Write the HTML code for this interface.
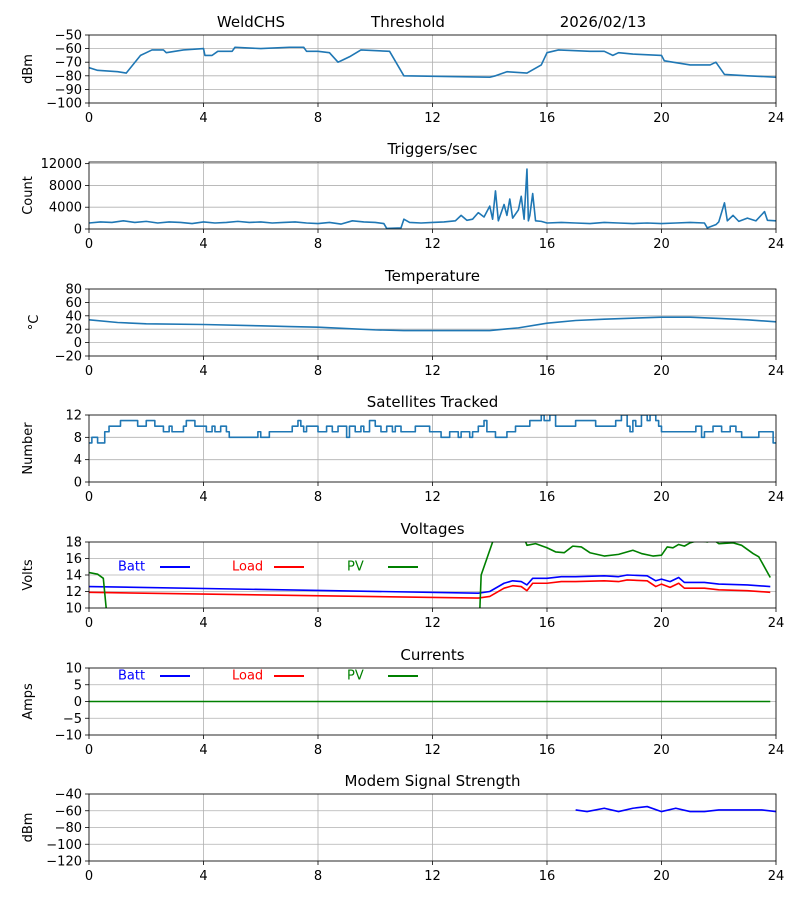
<!DOCTYPE html>
<html><head><meta charset="utf-8">
<style>
html,body{margin:0;padding:0;background:#fff;}
svg{display:block;font-family:"DejaVu Sans","Liberation Sans",sans-serif;}
</style></head>
<body>
<svg id="chart" width="800" height="900" xmlns="http://www.w3.org/2000/svg">
<text x="251" y="27" font-size="15" text-anchor="middle">WeldCHS</text>
<text x="408" y="27" font-size="15" text-anchor="middle">Threshold</text>
<text x="603" y="27" font-size="15" text-anchor="middle">2026/02/13</text>
</svg>
<script>
// ---- data ----
const xTicks = [0,4,8,12,16,20,24];
const threshHours = [0,0.3,1,1.3,1.8,2,2.2,2.6,2.7,3,3.3,4,4.05,4.3,4.5,5,5.1,6,7,7.5,7.6,8,8.4,8.7,8.9,9.1,9.5,10.5,11,14,14.2,14.6,15.3,15.8,16,16.4,17.5,18,18.3,18.5,19,20,20.1,21,21.7,21.9,22.2,23,24];
const threshVals = [-74,-76,-77,-78,-65,-63,-61,-61,-63,-62,-61,-60,-65,-65,-62,-62,-59,-60,-59,-59,-62,-62,-63,-70,-68,-66,-61,-62,-80,-81,-80,-77,-78,-72,-63,-61,-62,-62,-65,-63,-64,-65,-69,-72,-72,-70,-79,-80,-81];
const trigHours = [0,0.4,0.8,1.2,1.6,2,2.4,2.8,3.2,3.6,4,4.4,4.8,5.2,5.6,6,6.4,6.8,7.2,7.6,8,8.4,8.8,9.2,9.6,10,10.3,10.4,10.9,11,11.2,11.6,12,12.4,12.8,13,13.2,13.4,13.6,13.8,14,14.1,14.2,14.3,14.5,14.6,14.7,14.8,15,15.1,15.2,15.3,15.35,15.4,15.5,15.6,15.8,16,16.5,17,17.5,18,18.5,19,19.5,20,20.5,21,21.5,21.6,21.9,22,22.2,22.3,22.5,22.7,23,23.3,23.6,23.7,24];
const trigVals = [1100,1300,1200,1500,1200,1400,1100,1300,1200,1000,1300,1100,1200,1400,1200,1300,1100,1200,1300,1100,1000,1200,900,1500,1300,1200,1000,100,200,1800,1200,1100,1200,1300,1500,2500,1600,1800,3000,2200,4200,1800,7000,1500,4500,2500,5500,2000,3500,6000,1800,11000,1500,2500,6500,1500,1400,1100,1200,1100,1000,1200,1100,1000,1100,1000,1100,1200,1100,200,800,1300,4800,1500,2500,1400,2000,1500,3200,1600,1500];
const tempHours = [0,1,2,4,6,7,8,9,10,11,14,15,16,17,18,20,21,22,23,24];
const tempVals = [34,30,28,27,25,24,23,21,19,18,18,22,29,33,35,38,38,36,34,31];
const satHours = [0,0.1,0.3,0.55,0.7,1.1,1.7,2.0,2.3,2.6,2.8,2.9,3.3,3.4,3.7,4.1,4.3,4.4,4.6,4.8,4.9,5.9,6.0,6.3,7.1,7.3,7.4,7.5,7.6,8.0,8.3,8.5,8.7,9.0,9.1,9.3,9.5,9.6,9.8,10.0,10.2,10.4,10.6,10.7,10.9,11.4,11.9,12.3,12.6,12.9,13.0,13.3,13.4,13.6,13.8,13.9,14.2,14.6,14.9,15.4,15.8,15.9,16.1,16.3,17.0,17.7,18.4,18.6,18.8,18.9,19.0,19.1,19.3,19.5,19.6,19.8,19.9,20.0,21.2,21.4,21.5,21.8,22.1,22.4,22.6,22.8,23.4,23.9,24];
const satVals = [7,8,7,9,10,11,10,11,10,9,10,9,10,11,10,9,10,9,10,9,8,9,8,9,10,11,10,9,10,9,10,9,10,8,10,9,10,9,11,10,9,10,9,10,9,10,9,8,9,8,9,8,9,10,11,9,8,9,10,11,12,11,12,10,11,10,11,12,10,9,11,10,12,11,12,11,10,9,10,8,9,10,9,10,9,8,9,7,7];
const voltHours = [0,13.6,14,14.5,14.8,15.1,15.3,15.5,16,16.5,17,18,18.5,18.8,19.5,19.8,20,20.3,20.6,20.8,21.5,22,23,23.8];
const battVals = [12.6,11.8,12.0,13.0,13.3,13.2,12.8,13.6,13.6,13.8,13.8,13.9,13.8,14.0,13.9,13.3,13.5,13.2,13.7,13.1,13.1,12.9,12.8,12.6];
const loadVals = [11.9,11.2,11.4,12.4,12.7,12.6,12.1,13.0,13.0,13.2,13.2,13.3,13.2,13.4,13.3,12.6,12.9,12.5,13.0,12.4,12.4,12.2,12.1,11.9];
const pvHours = [0,0.3,0.5,0.6,0.7,13.6,13.7,14,14.2,15.2,15.3,15.6,16,16.3,16.6,16.9,17.2,17.5,18,18.5,19,19.3,19.7,20,20.2,20.4,20.6,20.8,21,21.3,21.6,21.8,22,22.5,22.8,23.2,23.4,23.8];
const pvVals = [14.3,14.1,13.6,10,5,5,14,17,19,18.5,17.6,17.8,17.3,16.8,16.7,17.5,17.4,16.7,16.3,16.5,17,16.6,16.3,16.4,17.4,17.3,17.7,17.5,17.9,18.2,18,18.3,17.8,17.9,17.6,16.6,16.2,13.7];
const currHours = [0,23.8];
const currVals = [0,0];
const modemHours = [17,17.4,18,18.5,19,19.5,20,20.5,21,21.5,22,23.5,24];
const modemVals = [-59,-61,-57,-61,-57,-55,-61,-57,-61,-61,-59,-59,-61];

// ---- drawing ----
const svg = document.getElementById('chart');
const NS = 'http://www.w3.org/2000/svg';
const X0 = 89, X1 = 776;
function xs(h){ return X0 + (X1 - X0) * h / 24; }
function mk(tag, attrs, parent){
  const e = document.createElementNS(NS, tag);
  for (const k in attrs) e.setAttribute(k, attrs[k]);
  (parent || svg).appendChild(e);
  return e;
}
let clipN = 0;
function panel(key, title, ylabel, y0, y1, ymin, ymax, yticks){
  const g = mk('g', {});
  
  
  const ys = v => y1 - (y1 - y0) * (v - ymin) / (ymax - ymin);
  if (title){
    const t = mk('text', {x: (X0+X1)/2, y: y0 - 8, 'font-size': 15, 'text-anchor': 'middle'}, g);
    t.textContent = title;
    
    
  }
  xTicks.forEach(h => {
    mk('line', {x1: xs(h), x2: xs(h), y1: y0, y2: y1, stroke: '#b0b0b0', 'stroke-width': 0.8}, g);
    mk('line', {x1: xs(h), x2: xs(h), y1: y1, y2: y1 + 4, stroke: '#000', 'stroke-width': 0.8}, g);
    const t = mk('text', {x: xs(h), y: y1 + 19, 'font-size': 13, 'text-anchor': 'middle'}, g);
    t.textContent = h;
    
    
  });
  yticks.forEach(v => {
    const y = ys(v);
    mk('line', {x1: X0, x2: X1, y1: y, y2: y, stroke: '#b0b0b0', 'stroke-width': 0.8}, g);
    mk('line', {x1: X0 - 4, x2: X0, y1: y, y2: y, stroke: '#000', 'stroke-width': 0.8}, g);
    const t = mk('text', {x: X0 - 7, y: y + 4.5, 'font-size': 13, 'text-anchor': 'end'}, g);
    t.textContent = v < 0 ? '\u2212' + Math.abs(v) : v;
    
    
  });
  const yl = mk('text', {x: 0, y: 0, 'font-size': 13, 'text-anchor': 'middle', transform: `translate(${key==='temperature'?38:32},${(y0+y1)/2}) rotate(-90)`}, g);
  yl.textContent = ylabel;
  
  
  const id = 'clip' + (clipN++);
  const cp = mk('clipPath', {id: id}, g);
  mk('rect', {x: X0, y: y0, width: X1 - X0, height: y1 - y0}, cp);
  const plot = mk('g', {'clip-path': `url(#${id})`}, g);
  mk('rect', {x: X0, y: y0, width: X1 - X0, height: y1 - y0, fill: 'none', stroke: '#000', 'stroke-width': 0.8}, g);
  return {g, plot, ys};
}
function series(p, hours, vals, color, name, step){
  let d = '';
  for (let i = 0; i < hours.length; i++){
    const x = xs(hours[i]), y = p.ys(vals[i]);
    if (i === 0) d += `M${x},${y}`;
    else if (step) d += `H${x}V${y}`;
    else d += `L${x},${y}`;
  }
  const path = mk('path', {d, fill: 'none', stroke: color, 'stroke-width': 1.6, 'stroke-linejoin': 'round'}, p.plot);
  
  
}
function legend(p, y){
  const items = [['Batt','#0000ff',118,160],['Load','#ff0000',232,274],['PV','#008000',347,388]];
  items.forEach(it => {
    const t = mk('text', {x: it[2], y: y + 4.5, 'font-size': 13, fill: it[1]}, p.g);
    t.textContent = it[0];
    
    
    mk('line', {x1: it[3], x2: it[3] + 30, y1: y + 1, y2: y + 1, stroke: it[1], 'stroke-width': 2}, p.g);
  });
}
const C = '#1f77b4';
let p;
p = panel('threshold', null, 'dBm', 35, 103, -100, -50, [-100,-90,-80,-70,-60,-50]);
series(p, threshHours, threshVals, C, 'threshold-line');
p = panel('triggers', 'Triggers/sec', 'Count', 162, 229, 0, 12300, [0,4000,8000,12000]);
series(p, trigHours, trigVals, C, 'triggers-line');
p = panel('temperature', 'Temperature', '\u00B0C', 289, 356, -20, 80, [-20,0,20,40,60,80]);
series(p, tempHours, tempVals, C, 'temperature-line');
p = panel('satellites', 'Satellites Tracked', 'Number', 415, 482, 0, 12, [0,4,8,12]);
series(p, satHours, satVals, C, 'satellites-line', true);
p = panel('voltages', 'Voltages', 'Volts', 542, 608, 10, 18, [10,12,14,16,18]);
series(p, voltHours, battVals, '#0000ff', 'batt-voltage-line');
series(p, voltHours, loadVals, '#ff0000', 'load-voltage-line');
series(p, pvHours, pvVals, '#008000', 'pv-voltage-line');
legend(p, 566);
p = panel('currents', 'Currents', 'Amps', 668, 735, -10, 10, [-10,-5,0,5,10]);
series(p, currHours, currVals, '#008000', 'pv-current-line');
legend(p, 675);
p = panel('modem', 'Modem Signal Strength', 'dBm', 794, 861, -120, -40, [-120,-100,-80,-60,-40]);
series(p, modemHours, modemVals, '#0000ff', 'modem-signal-line');
</script>
</body></html>
